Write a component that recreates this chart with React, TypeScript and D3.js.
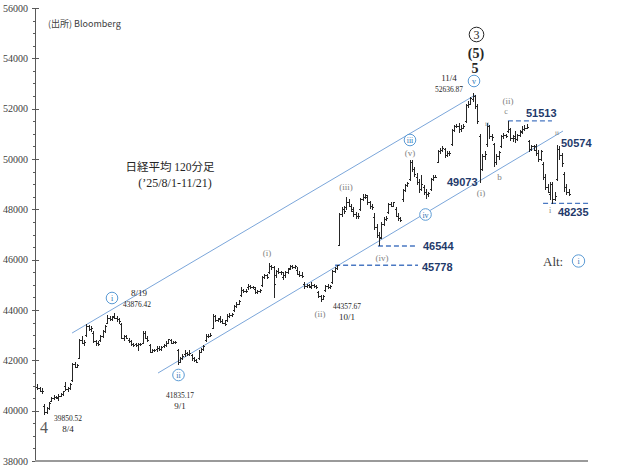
import React from "react";
import * as d3 from "d3";

// ---- data ----
const days = [
  "8/1","8/4","8/5","8/6","8/7","8/8","8/12","8/13","8/14","8/15","8/18","8/19","8/20","8/21","8/22",
  "8/25","8/26","8/27","8/28","8/29","9/1","9/2","9/3","9/4","9/5","9/8","9/9","9/10","9/11","9/12",
  "9/16","9/17","9/18","9/19","9/22","9/24","9/25","9/26","9/29","9/30","10/1","10/2","10/3","10/6",
  "10/7","10/8","10/9","10/10","10/14","10/15","10/16","10/17","10/20","10/21","10/22","10/23","10/24",
  "10/27","10/28","10/29","10/30","10/31","11/4","11/5","11/6","11/7","11/10","11/11","11/12","11/13",
  "11/14","11/17","11/18","11/19","11/20","11/21",
];

// 120-minute bars, 3 per trading day: [open, high, low, close]
const bars: [number, number, number, number][] = [
  [40950,41050,40850,40900],[40900,40950,40750,40800],[40800,40900,40700,40800], // 8/1
  [40200,40250,39850,39950],[39950,40150,39900,40100],[40100,40330,40050,40290], // 8/4
  [40400,40550,40350,40500],[40500,40620,40450,40550],[40550,40600,40480,40549], // 8/5
  [40500,40650,40400,40600],[40600,40700,40550,40650],[40650,40800,40600,40794], // 8/6
  [41000,41150,40800,40850],[40850,40950,40750,40900],[40900,41100,40850,41059], // 8/7
  [41200,41900,41150,41850],[41850,41950,41700,41750],[41750,41850,41700,41820], // 8/8
  [42100,42850,42100,42800],[42800,42950,42650,42700],[42700,42800,42600,42718], // 8/12
  [43000,43451,42950,43350],[43350,43400,43200,43250],[43250,43350,43150,43274], // 8/13
  [43100,43150,42700,42750],[42750,42800,42600,42700],[42700,42750,42600,42649], // 8/14
  [42800,43000,42750,42950],[42950,43200,42900,43150],[43150,43400,43100,43378], // 8/15
  [43500,43800,43450,43700],[43700,43780,43600,43650],[43650,43750,43600,43714], // 8/18
  [43750,43876,43650,43700],[43700,43780,43550,43650],[43650,43700,43450,43546], // 8/19
  [43450,43500,42850,42900],[42900,43000,42800,42950],[42950,43000,42850,42888], // 8/20
  [42800,42900,42700,42750],[42750,42800,42600,42650],[42650,42700,42550,42610], // 8/21
  [42650,42700,42550,42600],[42600,42700,42400,42650],[42650,42700,42600,42633], // 8/22
  [42700,43150,42700,43100],[43100,43150,42850,42900],[42900,42950,42750,42807], // 8/25
  [42600,42650,42300,42350],[42350,42450,42300,42400],[42400,42450,42350,42394], // 8/26
  [42450,42550,42350,42500],[42500,42550,42400,42450],[42450,42550,42400,42520], // 8/27
  [42550,42650,42500,42600],[42600,42750,42550,42700],[42700,42850,42650,42828], // 8/28
  [42800,42850,42650,42700],[42700,42750,42650,42720],[42720,42780,42650,42718], // 8/29
  [42400,42450,41835,41950],[41950,42150,41900,42100],[42100,42250,42050,42188], // 9/1
  [42250,42400,42150,42300],[42300,42350,42200,42250],[42250,42400,42200,42310], // 9/2
  [42200,42250,42000,42100],[42100,42150,41950,42000],[42000,42050,41900,41938], // 9/3
  [42100,42400,42050,42350],[42350,42500,42300,42450],[42450,42600,42400,42580], // 9/4
  [42800,43050,42750,42950],[42950,43050,42900,42980],[42980,43100,42950,43018], // 9/5
  [43300,43850,43300,43750],[43750,43800,43550,43600],[43600,43700,43550,43643], // 9/8
  [43700,43750,43500,43550],[43550,43650,43450,43500],[43500,43600,43400,43459], // 9/9
  [43600,43850,43550,43750],[43750,43900,43700,43800],[43800,43880,43750,43837], // 9/10
  [44000,44200,43950,44150],[44150,44300,44100,44250],[44250,44400,44200,44372], // 9/11
  [44600,44900,44550,44800],[44800,44850,44700,44750],[44750,44850,44700,44768], // 9/12
  [44900,45050,44800,44950],[44950,45000,44850,44900],[44900,44950,44850,44902], // 9/16
  [44850,44900,44650,44700],[44700,44800,44650,44750],[44750,44850,44700,44790], // 9/17
  [45000,45350,44950,45300],[45300,45450,45250,45400],[45400,45450,45250,45303], // 9/18
  [45500,45852,45450,45750],[45750,45800,45600,45700],[45700,45750,44500,45045], // 9/19
  [45400,45600,45300,45550],[45550,45650,45450,45500],[45500,45550,45400,45493], // 9/22
  [45300,45500,45200,45400],[45400,45550,45300,45500],[45500,45650,45450,45630], // 9/24
  [45650,45800,45600,45750],[45750,45800,45650,45700],[45700,45780,45650,45754], // 9/25
  [45600,45700,45400,45450],[45450,45550,45350,45400],[45400,45500,45300,45354], // 9/26
  [45050,45100,44850,44950],[44950,45050,44900,45000],[45000,45050,44880,44913], // 9/29
  [44950,45100,44850,45000],[45000,45050,44900,44950],[44950,45000,44850,44932], // 9/30
  [44700,44750,44500,44550],[44550,44600,44357,44450],[44450,44600,44400,44550], // 10/1
  [44800,45000,44750,44950],[44950,45050,44850,44900],[44900,45000,44850,44936], // 10/2
  [45100,45600,45050,45550],[45550,45700,45500,45650],[45650,45778,45600,45769], // 10/3
  [46600,47850,46600,47800],[47800,48100,47700,48000],[48000,48150,47850,47944], // 10/6
  [48100,48500,48000,48300],[48300,48400,48100,48150],[48150,48200,47900,47950], // 10/7
  [48000,48100,47700,47800],[47800,47900,47650,47750],[47750,47850,47650,47734], // 10/8
  [48000,48450,47950,48400],[48400,48597,48350,48500],[48500,48600,48450,48580], // 10/9
  [48500,48550,48200,48300],[48300,48350,48050,48150],[48150,48200,48000,48088], // 10/10
  [47700,47850,47200,47300],[47300,47400,46900,47000],[47000,47100,46544,46847], // 10/14
  [46900,47500,46850,47400],[47400,47700,47350,47600],[47600,47750,47550,47672], // 10/15
  [47900,48250,47850,48200],[48200,48300,48100,48150],[48150,48300,48100,48277], // 10/16
  [48000,48100,47700,47750],[47750,47850,47550,47650],[47650,47700,47500,47582], // 10/17
  [48400,48800,48300,48750],[48750,49000,48700,48950],[48950,49100,48900,49040], // 10/20
  [49200,49960,49150,49900],[49900,49950,49500,49600],[49600,49700,49300,49400], // 10/21
  [49300,49450,49000,49100],[49100,49200,48650,48800],[48800,49350,48750,49000], // 10/22
  [48900,48950,48600,48700],[48700,48800,48450,48600],[48600,48700,48500,48641], // 10/23
  [48800,49250,48750,49200],[49200,49350,49150,49300],[49300,49350,49250,49299], // 10/24
  [49900,50350,49850,50300],[50300,50450,50200,50350],[50350,50500,50300,50450], // 10/27
  [50400,50450,50050,50150],[50150,50300,50100,50250],[50250,50300,50150,50219], // 10/28
  [50600,51200,50550,51150],[51150,51350,51100,51300],[51300,51400,51250,51307], // 10/29
  [51300,51450,51050,51200],[51200,51350,51100,51250],[51250,51400,51200,51325], // 10/30
  [51500,52200,51450,52150],[52150,52300,52050,52200],[52200,52450,52150,52411], // 10/31
  [52400,52636,52300,52500],[52500,52550,52000,52100],[52100,52200,51400,51497], // 11/4
  [50900,51000,49073,49600],[49600,50200,49550,50100],[50100,50300,50000,50212], // 11/5
  [50600,51450,50500,51300],[51300,51350,50800,50900],[50900,51000,50750,50883], // 11/6
  [50600,50650,49700,49900],[49900,50200,49800,50100],[50100,50300,50000,50276], // 11/7
  [50500,50950,50450,50900],[50900,51050,50800,50950],[50950,51000,50850,50911], // 11/10
  [51100,51513,51050,51200],[51200,51250,50750,50850],[50850,50950,50700,50842], // 11/11
  [50900,51100,50650,50800],[50800,51000,50750,50950],[50950,51150,50900,51063], // 11/12
  [51100,51300,51000,51200],[51200,51350,51150,51250],[51250,51400,51200,51281], // 11/13
  [50700,50750,50300,50400],[50400,50550,50350,50500],[50500,50550,50350,50376], // 11/14
  [50500,50600,50150,50250],[50250,50350,49900,50000],[50000,50350,49950,50323], // 11/17
  [49800,49900,49200,49300],[49300,49400,48800,48900],[48900,49000,48650,48702], // 11/18
  [48600,49100,48400,49000],[49000,49100,48235,48400],[48400,48700,48350,48537], // 11/19
  [49200,50574,49150,50400],[50400,50500,50000,50150],[50150,50250,49700,49823], // 11/20
  [49400,49500,48700,48900],[48900,49000,48600,48700],[48700,48800,48550,48625], // 11/21
];

const yTicks = [38000, 40000, 42000, 44000, 46000, 48000, 50000, 52000, 54000, 56000];
const yMinorStep = 500;

// channel lines: [bar index, value]
const upperChannel: [number, number][] = [[14.9, 43085], [187.0, 52541]];
const lowerChannel: [number, number][] = [[51.6, 41496], [224.5, 51111]];

// dashed support/resistance levels: value, from bar, to bar
const levelValues = [51513, 48235, 46544, 45778];
const levelFrom = [201.0, 216.0, 145.5, 127.2];
const levelTo = [219.8, 235.2, 161.3, 162.6];

export default function App() {
  const W = 618, H = 473;
  const x = d3.scaleLinear().domain([0, bars.length]).range([36, 570]);
  const xc = (i: number) => x(i + 0.5);
  const y = d3.scaleLinear().domain([38000, 56000]).range([461, 8]);
  const minor = d3.range(38000, 56001, yMinorStep).filter((v) => v % 2000 !== 0);
  const line = d3.line<[number, number]>().x((d) => xc(d[0])).y((d) => y(d[1]));

  const barColor = "#262626";
  const chanColor = "#7BA6DA";
  const dashColor = "#4A78C2";
  const navy = "#1F3A6B";
  const gray = "#7F7F7F";
  const serif = "'Liberation Serif', 'DejaVu Serif', serif";
  const cjk = "'Liberation Serif', 'Noto Sans CJK JP', serif";
  const sans = "'Liberation Sans', Arial, sans-serif";
  const circBlue = "#5B9BD5";

  const circ = (cx: number, cy: number, t: string, r = 5.8) => (
    <g key={t + cx}>
      <circle cx={cx} cy={cy} r={r} fill="white" stroke={circBlue} strokeWidth={1} />
      <text x={cx} y={cy + 0.5} fontFamily={serif} fontSize={8} fill="#2E75B6" textAnchor="middle" dominantBaseline="central">{t}</text>
    </g>
  );
  const numLbl = (cx: number, cy: number, t: string, w?: number) => (
    <text key={t + cy} x={cx} y={cy} fontFamily={serif} fontSize={9} fill="#262626" textAnchor="middle" dominantBaseline="central"
      {...(w ? { textLength: w, lengthAdjust: "spacingAndGlyphs" } : {})}>{t}</text>
  );
  const gLbl = (cx: number, cy: number, t: string, fs = 9) => (
    <text key={t + cx + cy} x={cx} y={cy} fontFamily={serif} fontSize={fs} fill={gray} textAnchor="middle" dominantBaseline="central">{t}</text>
  );
  const lvl = (xx: number, cy: number, t: string) => (
    <text key={t} x={xx} y={cy} fontFamily={sans} fontSize={11} fontWeight="bold" fill={navy} dominantBaseline="central">{t}</text>
  );

  return (
    <svg width={W} height={H} style={{ position: "absolute", left: 0, top: 0, background: "white" }}>
      <rect width={W} height={H} fill="white" />
      {/* y axis */}
      <line x1={35} x2={35} y1={y(56000)} y2={y(38000)} stroke="#595959" strokeWidth={1} shapeRendering="crispEdges" />
      {yTicks.map((t) => (
        <g key={t}>
          <line x1={32} x2={39} y1={Math.round(y(t)) + 0.5} y2={Math.round(y(t)) + 0.5} stroke="#595959" />
          <text x={28} y={y(t)} fontFamily={serif} fontSize={10} fill="#404040" textAnchor="end" dominantBaseline="central">{t}</text>
        </g>
      ))}
      {minor.map((t) => (
        <line key={t} x1={33} x2={35} y1={Math.round(y(t)) + 0.5} y2={Math.round(y(t)) + 0.5} stroke="#595959" />
      ))}
      {/* x axis line */}
      <line x1={35} x2={588} y1={461} y2={461} stroke="#9A9A9A" strokeWidth={2} />

      {/* channel lines */}
      <path d={line(upperChannel) || ""} stroke={chanColor} strokeWidth={1} fill="none" />
      <path d={line(lowerChannel) || ""} stroke={chanColor} strokeWidth={1} fill="none" />

      {/* dashed levels */}
      {levelValues.map((v, i) => (
        <line key={v} x1={xc(levelFrom[i])} x2={xc(levelTo[i])} y1={y(v)} y2={y(v)} stroke={dashColor} strokeWidth={1.3} strokeDasharray="5,3" />
      ))}

      {/* OHLC bars */}
      <g stroke={barColor} strokeWidth={1} shapeRendering="crispEdges">
        {bars.map(([o, h, l, c], i) => {
          const cx = Math.round(xc(i)) + 0.5;
          return (
            <g key={i}>
              <line x1={cx} x2={cx} y1={y(h)} y2={y(l) + 0.5} />
              <line x1={cx - 1.5} x2={cx} y1={Math.round(y(o)) + 0.5} y2={Math.round(y(o)) + 0.5} />
              <line x1={cx} x2={cx + 1.5} y1={Math.round(y(c)) + 0.5} y2={Math.round(y(c)) + 0.5} />
            </g>
          );
        })}
      </g>

      {/* source & title */}
      <text x={48} y={23} fontFamily="'Noto Sans CJK JP', sans-serif" fontSize={9} fill="#404040" dominantBaseline="central">(出所) Bloomberg</text>
      <text x={170} y={167} fontFamily={cjk} fontSize={11.5} fill="#262626" textAnchor="middle" dominantBaseline="central">日経平均 120分足</text>
      <text x={175} y={183} fontFamily={cjk} fontSize={12} fill="#262626" textAnchor="middle" dominantBaseline="central">(’25/8/1-11/21)</text>

      {/* date/price annotations */}
      {numLbl(139, 293, "8/19")}
      {numLbl(137, 303.5, "43876.42", 28)}
      {numLbl(68, 418, "39850.52", 28)}
      {numLbl(68, 429, "8/4")}
      {numLbl(180, 395, "41835.17", 28)}
      {numLbl(180, 405.5, "9/1")}
      {numLbl(347, 306, "44357.67", 28)}
      {numLbl(347, 316.5, "10/1")}
      {numLbl(449, 78, "11/4")}
      {numLbl(449, 89, "52636.87", 28)}

      <text x={44} y={427} fontFamily={serif} fontSize={16} fill="#595959" textAnchor="middle" dominantBaseline="central">4</text>

      {/* primary wave marks */}
      <circle cx={476.5} cy={34.5} r={7.3} fill="none" stroke="#262626" strokeWidth={1} />
      <text x={476.5} y={35} fontFamily={serif} fontSize={12} fill="#262626" textAnchor="middle" dominantBaseline="central">3</text>
      <text x={476} y={53} fontFamily={serif} fontSize={14} fontWeight="bold" fill="#262626" textAnchor="middle" dominantBaseline="central">(5)</text>
      <text x={475} y={68} fontFamily={serif} fontSize={14} fontWeight="bold" fill="#262626" textAnchor="middle" dominantBaseline="central">5</text>

      {/* circled minor waves */}
      {circ(112, 298, "i")}
      {circ(178.5, 375, "ii")}
      {circ(410, 140, "iii")}
      {circ(425.5, 214.5, "iv")}
      {circ(474, 81, "v")}
      {circ(578.5, 261, "i", 6.2)}
      <text x={543} y={261} fontFamily={serif} fontSize={13} fill="#404040" dominantBaseline="central">Alt:</text>

      {/* gray sub-wave labels */}
      {gLbl(267, 253, "(i)")}
      {gLbl(320, 314, "(ii)")}
      {gLbl(346, 187, "(iii)")}
      {gLbl(382, 258, "(iv)")}
      {gLbl(410, 153, "(v)")}
      {gLbl(481, 193, "(i)")}
      {gLbl(508, 101, "(ii)")}
      {gLbl(506, 111, "c", 8)}
      {gLbl(499.5, 177, "b", 9)}
      {gLbl(487, 124, "ii", 7)}
      {gLbl(557, 133, "ii", 7)}
      {gLbl(550, 210, "i", 8)}

      {/* level labels */}
      {lvl(526, 113, "51513")}
      {lvl(561, 143, "50574")}
      {lvl(447, 182, "49073")}
      {lvl(558, 212, "48235")}
      {lvl(423, 246, "46544")}
      {lvl(422, 266.5, "45778")}
    </svg>
  );
}
